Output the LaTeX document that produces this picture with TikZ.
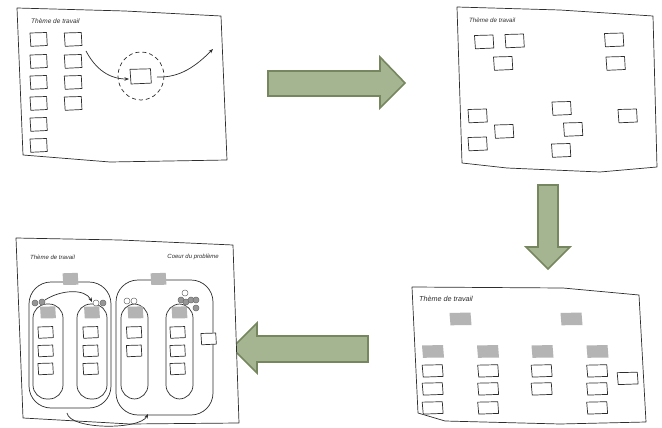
\documentclass[tikz,border=0pt]{standalone}
\usepackage{fontspec}
\setmainfont{Liberation Sans}
\usetikzlibrary{arrows.meta}
\definecolor{arrfill}{RGB}{166,181,145}
\definecolor{arrdraw}{RGB}{118,135,95}
\definecolor{tabgray}{RGB}{180,180,180}
\definecolor{ink}{RGB}{45,45,45}
\definecolor{dotgray}{RGB}{150,150,150}
\tikzset{
  sketch/.style={draw=ink, line width=0.7pt, line join=round},
  page/.style={sketch, fill=white},
  bigarrow/.style={fill=arrfill, draw=arrdraw, line width=1.6pt, line join=miter},
  ttl/.style={font=\fontsize{6.5}{7}\selectfont\itshape, text=ink, inner sep=0pt, anchor=west},
  flow/.style={sketch, -{Stealth[length=4.5pt,width=3.5pt]}},
  gdot/.style={fill=dotgray, draw=ink!70, line width=0.5pt},
  wdot/.style={fill=white, draw=ink!70, line width=0.5pt},
  wnote/.pic={\draw[sketch, fill=white] (-10,-6.5) -- (9.5,-7) -- (10.3,6) -- (-9,6.8) -- cycle;},
  gnote/.pic={\fill[tabgray] (-11,-6) -- (10,-6.5) -- (11,6) -- (-10,6.3) -- cycle;},
  cont/.style={sketch, rounded corners=22pt},
  icont/.style={sketch, rounded corners=14pt}
}
\begin{document}
\begin{tikzpicture}[x=1pt,y=-1pt]
\useasboundingbox (0,0) rectangle (662,428);

% ---------- Panel 1 ----------
\draw[page] (17,8) -- (125,11) -- (221,16) -- (227,160) -- (110,162) -- (23,155) -- cycle;
\node[ttl] (t1) at (31,21) {Thème de travail};
\foreach \y in {39.5,61.5,82.5,103.5,124.5,145.5} \pic[xscale=0.85] at (38.5,\y) {wnote};
\foreach \y in {39.5,61.5,82.5,103.5} \pic[xscale=0.87] at (73,\y) {wnote};
\draw[sketch, dash pattern=on 4pt off 3pt] (141,76) ellipse [x radius=23, y radius=24];
\pic[xscale=1.05,yscale=1.1] at (140.5,76.5) {wnote};
\coordinate (a1s) at (86,51);
\coordinate (a1e) at (129,79);
\coordinate (a2s) at (157,77);
\coordinate (a2e) at (213,49);
\draw[flow] (a1s) .. controls (96,70) and (110,79) .. (a1e);
\draw[flow] (a2s) .. controls (180,78) and (196,66) .. (a2e);

% ---------- Arrow right ----------
\draw[bigarrow] (268,71) -- (380,71) -- (380,57) -- (405,83) -- (380,108) -- (380,96) -- (268,96) -- cycle;

% ---------- Panel 2 ----------
\draw[page] (457,7) -- (560,10) -- (653,16) -- (657,167) -- (600,172) -- (507,168) -- (462,163) -- cycle;
\node[ttl, font=\fontsize{6.2}{7}\selectfont\itshape] (t2) at (469,20) {Thème de travail};
\foreach \p in {(484,42),(514.5,41),(503,63.5),(614,40),(615.5,63.5),(477.5,116),(504,131.5),(477.5,144),(561.5,108.5),(573,129.5),(561,150.5),(627.5,116)}
  \pic[xscale=0.95] at \p {wnote};

% ---------- Arrow down ----------
\draw[bigarrow] (538,185) -- (558,185) -- (558,247) -- (570,247) -- (548,269) -- (526,247) -- (538,247) -- cycle;

% ---------- Panel 4 ----------
\draw[page] (412,287) -- (563,288) -- (639,295) -- (646,422) -- (560,424) -- (445,421) -- (418,413) -- cycle;
\node[ttl, font=\fontsize{7.2}{8}\selectfont\itshape] (t4) at (419,299) {Thème de travail};
\foreach \p in {(460.5,319),(571.5,319),(433,351.5),(488,351.5),(542.5,351.5),(597.5,351.5)}
  \pic at \p {gnote};
\foreach \p in {(432.5,371),(488,371),(541.5,371),(597,371),
                (432.5,389),(488,389),(541.5,389),(597,389),
                (432.5,408),(488,408),(597,408),(627.5,378.5)}
  \pic[xscale=1.03,yscale=0.9] at \p {wnote};

% ---------- Arrow left ----------
\draw[bigarrow] (368,336) -- (257,336) -- (257,323) -- (232,348) -- (257,373) -- (257,362) -- (368,362) -- cycle;

% ---------- Panel 3 ----------
\draw[page] (16,238) -- (120,240) -- (233,245) -- (239,423) -- (130,424) -- (23,418) -- cycle;
\node[ttl, font=\fontsize{6}{7}\selectfont\itshape] (t3a) at (30,257) {Thème de travail};
\node[ttl, font=\fontsize{6}{7}\selectfont\itshape, anchor=east] (t3b) at (219,257) {Coeur du problème};
\draw[cont] (29,282) rectangle (111,408);
\draw[cont] (116,280) rectangle (213,415);
\draw[icont] (33,304) rectangle (63,399);
\draw[icont] (77,304) rectangle (107,399);
\draw[icont] (121,304) rectangle (148,399);
\draw[icont] (166,304) rectangle (193,399);
\foreach \p in {(70.5,279),(158.5,279),(48,312.5),(92,312.5),(135.5,312.5),(179.5,312.5)}
  \pic[xscale=0.72,yscale=0.95] at \p {gnote};
\foreach \p in {(45.5,332.5),(90.5,332.5),(134,332.5),(177.5,332.5),
                (45.5,351),(90.5,351),(134,351),(177.5,351),
                (45.5,369),(90.5,369),(177.5,369),(208.5,339)}
  \pic[xscale=0.76,yscale=0.85] at \p {wnote};
% dots
\draw[gdot] (35,303) circle[radius=3];
\draw[gdot] (42,302) circle[radius=3];
\draw[wdot] (96,303) circle[radius=3];
\draw[gdot] (103,303) circle[radius=3];
\draw[wdot] (127,301) circle[radius=3];
\draw[wdot] (134,301) circle[radius=3];
\draw[wdot] (185,293) circle[radius=3];
\draw[gdot] (181,300) circle[radius=3];
\draw[gdot] (186,302) circle[radius=3];
\draw[gdot] (191,300) circle[radius=3];
\draw[gdot] (196,300) circle[radius=3];
\draw[gdot] (196,308) circle[radius=3];
\coordinate (b1s) at (45,300);
\coordinate (b1e) at (92,302);
\coordinate (b2s) at (67,413);
\coordinate (b2e) at (148,414);
\draw[flow] (b1s) .. controls (60,290) and (85,288) .. (b1e);
\draw[flow] (b2s) .. controls (70,430) and (140,430) .. (b2e);
\end{tikzpicture}
\end{document}
